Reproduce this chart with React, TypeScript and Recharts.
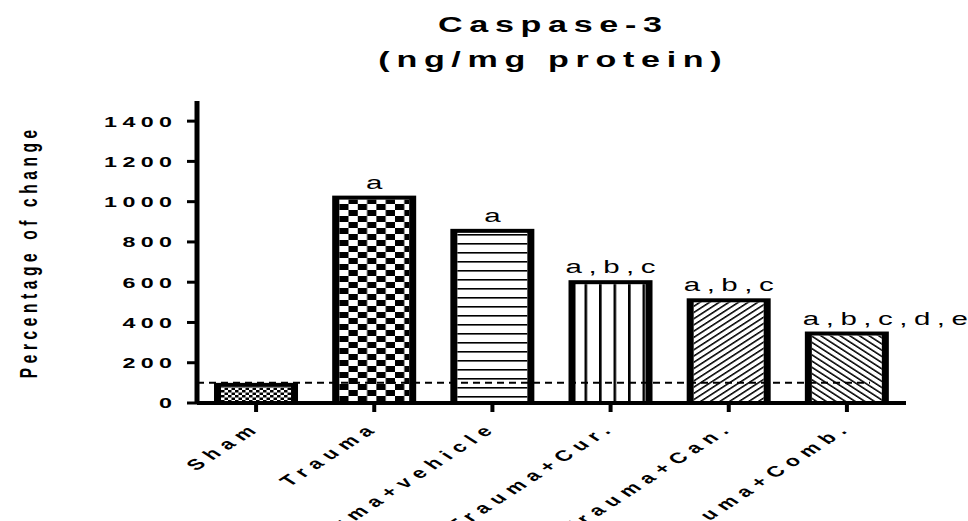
import React from 'react';
import { BarChart, Bar, XAxis, YAxis, ReferenceLine } from 'recharts';

const categories = ['Sham', 'Trauma', 'Trauma+vehicle', 'Trauma+Cur.', 'Trauma+Can.', 'Trauma+Comb.'];
const values = [100, 1030, 865, 610, 520, 355];
const significance = ['', 'a', 'a', 'a,b,c', 'a,b,c', 'a,b,c,d,e'];
const yTicks = [0, 200, 400, 600, 800, 1000, 1200, 1400];
const baselineValue = 100;
const titleLines = ['Caspase-3', '(ng/mg protein)'];
const yLabel = 'Percentage of change';

const data = categories.map((name, i) => ({ name, value: values[i], sig: significance[i] }));

const K = 1.55;
const FONT = "'Liberation Sans', Arial, Helvetica, sans-serif";

const patternFor = (index: number, id: string, x: number) => {
  switch (index) {
    case 0:
      return (
        <pattern id={id} patternUnits="userSpaceOnUse" width={7} height={5} x={x}>
          <rect width={3.5} height={2.5} fill="#000" />
          <rect x={3.5} y={2.5} width={3.5} height={2.5} fill="#000" />
        </pattern>
      );
    case 1:
      return (
        <pattern id={id} patternUnits="userSpaceOnUse" width={18.6} height={12} x={x + 7} y={0}>
          <rect width={9.3} height={6} fill="#000" />
          <rect x={9.3} y={6} width={9.3} height={6} fill="#000" />
        </pattern>
      );
    case 2:
      return (
        <pattern id={id} patternUnits="userSpaceOnUse" width={10} height={9}>
          <rect y={0} width={10} height={1.6} fill="#000" />
        </pattern>
      );
    case 3:
      return (
        <pattern id={id} patternUnits="userSpaceOnUse" width={14.5} height={10} x={x + 16}>
          <rect x={0} width={2.6} height={10} fill="#000" />
        </pattern>
      );
    case 4:
      return (
        <pattern id={id} patternUnits="userSpaceOnUse" width={4.4} height={4.4} patternTransform={`scale(${K},1) rotate(45)`}>
          <rect x={0} width={1.3} height={4.4} fill="#000" />
        </pattern>
      );
    default:
      return (
        <pattern id={id} patternUnits="userSpaceOnUse" width={4.4} height={4.4} patternTransform={`scale(${K},1) rotate(-45)`}>
          <rect x={0} width={1.3} height={4.4} fill="#000" />
        </pattern>
      );
  }
};

const BarShape = (props: any) => {
  const { x, y, width, height, index, payload } = props;
  const id = `pat-${index}`;
  const bx = 7;
  const by = 4;
  const last = index === categories.length - 1;
  const ls = 4.2;
  const ax = last ? x - 2 : x + width / 2;
  return (
    <g>
      <defs>{patternFor(index, id, x)}</defs>
      <rect x={x} y={y} width={width} height={height} fill="#000" />
      <rect x={x + bx} y={y + by} width={width - 2 * bx} height={height - by} fill="#fff" />
      <rect x={x + bx} y={y + by} width={width - 2 * bx} height={height - by} fill={`url(#${id})`} />
      {payload && payload.sig ? (
        <text
          transform={`translate(${ax},${y - 7}) scale(${K},1)`}
          x={last ? 0 : ls / 2}
          textAnchor={last ? 'start' : 'middle'}
          fontFamily={FONT}
          fontSize={19}
          letterSpacing={ls}
          fill="#000"
        >
          {payload.sig}
        </text>
      ) : null}
    </g>
  );
};

const XTick = (props: any) => {
  const { x, y, payload } = props;
  const ls = 5;
  return (
    <text
      transform={`translate(${x + 1},${y + 18}) scale(${K},1) rotate(-45)`}
      x={ls}
      textAnchor="end"
      fontFamily={FONT}
      fontWeight="bold"
      fontSize={15}
      letterSpacing={ls}
      fill="#000"
    >
      {payload.value}
    </text>
  );
};

const YTick = (props: any) => {
  const { x, y, payload } = props;
  const ls = 3.5;
  return (
    <text
      transform={`translate(${x},${y}) scale(${K},1)`}
      x={ls}
      dy={5.4}
      textAnchor="end"
      fontFamily={FONT}
      fontWeight="bold"
      fontSize={15}
      letterSpacing={ls}
      fill="#000"
    >
      {payload.value}
    </text>
  );
};

const DashedBase = (p: any) => (
  <line x1={p.x1} y1={p.y1} x2={p.x2 - 36} y2={p.y2} stroke="#000" strokeWidth={2} strokeDasharray="7 5" />
);

export default function App() {
  const tls = 4.3;
  const yls = 4.6;
  return (
    <div style={{ position: 'absolute', left: 0, top: 0, width: 968, height: 521, background: '#fff' }}>
      <BarChart
        width={968}
        height={521}
        data={data}
        margin={{ top: 101, right: 62, bottom: 88, left: 0 }}
        barCategoryGap="14.4%"
      >
        <XAxis
          dataKey="name"
          interval={0}
          height={30}
          tick={<XTick />}
          tickSize={9}
          tickMargin={2}
          axisLine={{ stroke: '#000', strokeWidth: 4 }}
          tickLine={{ stroke: '#000', strokeWidth: 4 }}
        />
        <YAxis
          width={197}
          domain={[0, 1500]}
          ticks={yTicks}
          interval={0}
          tick={<YTick />}
          tickSize={10}
          tickMargin={15}
          axisLine={{ stroke: '#000', strokeWidth: 5 }}
          tickLine={{ stroke: '#000', strokeWidth: 3 }}
        />
        <Bar dataKey="value" shape={<BarShape />} isAnimationActive={false} />
        <ReferenceLine y={baselineValue} shape={DashedBase} ifOverflow="extendDomain" />
      </BarChart>
      <svg width={968} height={521} style={{ position: 'absolute', left: 0, top: 0, pointerEvents: 'none' }}>
        <text
          transform={`translate(550,32) scale(${K},1)`}
          x={tls / 2}
          textAnchor="middle"
          fontFamily={FONT}
          fontWeight="bold"
          fontSize={22}
          letterSpacing={tls}
          fill="#000"
        >
          {titleLines[0]}
        </text>
        <text
          transform={`translate(550,67) scale(${K},1)`}
          x={tls / 2}
          textAnchor="middle"
          fontFamily={FONT}
          fontWeight="bold"
          fontSize={22}
          letterSpacing={tls}
          fill="#000"
        >
          {titleLines[1]}
        </text>
        <text
          transform={`translate(37,254) scale(${K},1) rotate(-90)`}
          x={yls / 2}
          textAnchor="middle"
          fontFamily={FONT}
          fontWeight="bold"
          fontSize={15.5}
          letterSpacing={yls}
          fill="#000"
        >
          {yLabel}
        </text>
      </svg>
    </div>
  );
}
